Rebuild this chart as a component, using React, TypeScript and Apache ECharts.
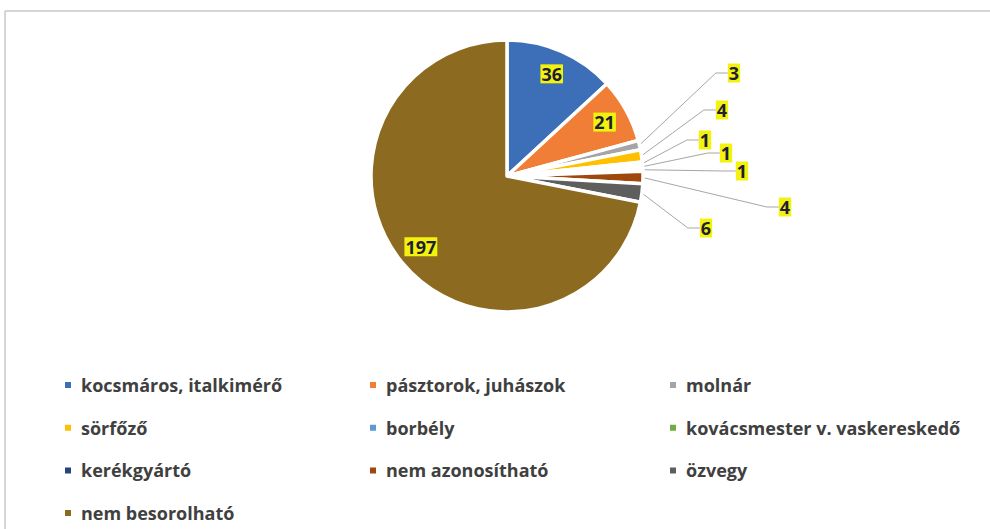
import React, { useEffect, useRef } from "react";
import * as echarts from "echarts";

const categories = [
  "kocsmáros, italkimérő",
  "pásztorok, juhászok",
  "molnár",
  "sörfőző",
  "borbély",
  "kovácsmester v. vaskereskedő",
  "kerékgyártó",
  "nem azonosítható",
  "özvegy",
  "nem besorolható",
];
const values = [36, 21, 3, 4, 1, 1, 1, 4, 6, 197];
const colors = [
  "#3D6FB8",
  "#F07E36",
  "#A5A5A5",
  "#FFC000",
  "#5B9BD5",
  "#70AD47",
  "#264478",
  "#9E480E",
  "#5E5E5E",
  "#8C6B21",
];

// legend columns (indices into categories)
const legendColumns = [
  [0, 3, 6, 9],
  [1, 4, 7],
  [2, 5, 8],
];
const legendLefts = [63, 368, 668];

// layout (not data)
const CENTER: [number, number] = [507, 176];
const RADIUS = 136;
const INSIDE_RATIO = 0.82;
const insideIdx = [0, 1, 9];
const outsideLabelPos: Record<number, [number, number]> = {
  2: [734, 73],
  3: [722, 110],
  4: [705, 140],
  5: [726, 153],
  6: [742, 171],
  7: [785, 207],
  8: [706, 228],
};

export default function App() {
  const ref = useRef<HTMLDivElement>(null);
  useEffect(() => {
    document.body.style.margin = "0";
    const chart = echarts.init(ref.current!, undefined, { renderer: "svg" });
    const total = values.reduce((a, b) => a + b, 0);
    let cum = 0;
    const mids = values.map((v) => {
      const m = cum + v / 2;
      cum += v;
      return m;
    });

    const labelStyle = {
      backgroundColor: "#F2F20C",
      color: "#1E1E36",
      fontWeight: "bold" as const,
      fontSize: 18,
      fontFamily: "Open Sans",
      padding: [1, 1, 0, 1],
      formatter: "{c}",
    };

    const data = categories.map((name, i) => {
      const inside = insideIdx.includes(i);
      return {
        name,
        value: values[i],
        itemStyle: { color: colors[i] },
        label: { show: true, position: inside ? "inside" : "outside", ...labelStyle },
        labelLine: {
          show: !inside,
          length: 10,
          length2: 12,
          lineStyle: { color: "#A6A6A6", width: 1 },
        },
      };
    });

    const legends = legendColumns.map((col, c) => ({
      show: true,
      orient: "vertical" as const,
      left: legendLefts[c],
      top: 374,
      height: 160,
      padding: 0,
      itemWidth: 8,
      itemHeight: 8,
      itemGap: 20.7,
      icon: "rect",
      selectedMode: false,
      data: col.map((i) => categories[i]),
      textStyle: {
        fontFamily: "Open Sans",
        fontWeight: "bold" as const,
        fontSize: 18,
        color: "#404040",
        lineHeight: 22,
        padding: [0, 0, 0, 4],
      },
    }));

    chart.setOption({
      animation: false,
      backgroundColor: "#ffffff",
      graphic: [
        {
          type: "line",
          shape: { x1: 5, y1: 11, x2: 990, y2: 11 },
          style: { stroke: "#C8C8C8", lineWidth: 1.5 },
        },
        {
          type: "line",
          shape: { x1: 5, y1: 11, x2: 5, y2: 529 },
          style: { stroke: "#C8C8C8", lineWidth: 1.5 },
        },
      ],
      legend: legends,
      series: [
        {
          type: "pie",
          center: CENTER,
          radius: RADIUS,
          startAngle: 90,
          clockwise: true,
          avoidLabelOverlap: false,
          itemStyle: { borderColor: "#ffffff", borderWidth: 3.5 },
          emphasis: { disabled: true },
          data,
          labelLayout: (params: any) => {
            const i = params.dataIndex;
            if (insideIdx.includes(i)) {
              const a = ((90 - (360 * mids[i]) / total) * Math.PI) / 180;
              const r = RADIUS * INSIDE_RATIO;
              return {
                x: CENTER[0] + r * Math.cos(a),
                y: CENTER[1] - r * Math.sin(a),
                align: "center",
                verticalAlign: "middle",
              };
            }
            const p = outsideLabelPos[i];
            return { x: p[0], y: p[1], align: "center", verticalAlign: "middle" };
          },
        },
      ],
    });
    return () => chart.dispose();
  }, []);
  return (
    <div
      ref={ref}
      style={{ position: "absolute", left: 0, top: 0, width: 990, height: 529 }}
    />
  );
}
